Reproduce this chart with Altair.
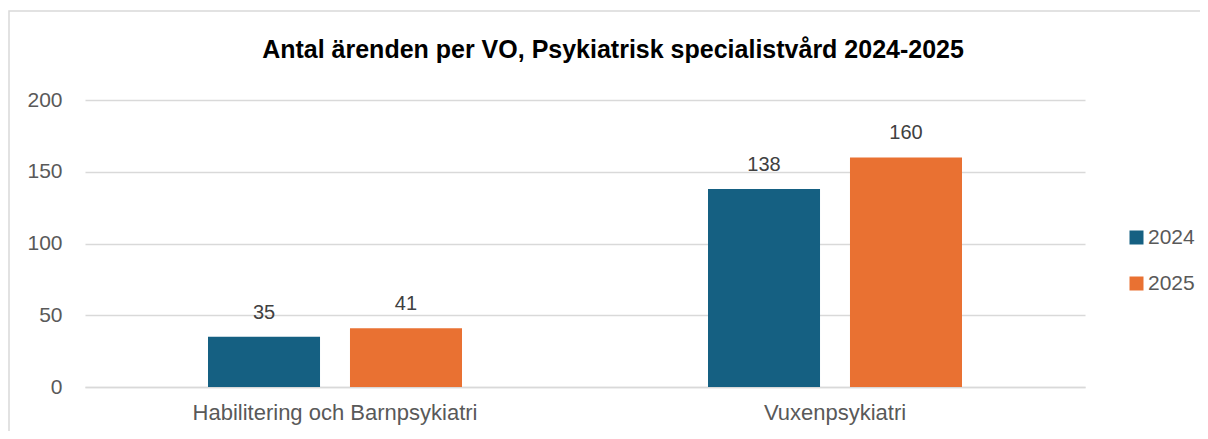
import altair as alt
import pandas as pd

categories = ["Habilitering och Barnpsykiatri", "Vuxenpsykiatri"]
years = ["2024", "2025"]
values_2024 = [35, 138]
values_2025 = [41, 160]
colors = ["#156082", "#E97132"]
y_ticks = [0, 50, 100, 150, 200]
title_text = "Antal ärenden per VO, Psykiatrisk specialistvård 2024-2025"

rows = []
for c, v in zip(categories, values_2024):
    rows.append({"cat": c, "year": "2024", "value": v})
for c, v in zip(categories, values_2025):
    rows.append({"cat": c, "year": "2025", "value": v})
df = pd.DataFrame(rows)

FONT = "Liberation Sans"

x_enc = alt.X("cat:N", sort=categories, title=None,
              scale=alt.Scale(paddingInner=0.492, paddingOuter=0.246),
              axis=alt.Axis(labelAngle=0, labelFontSize=22, labelColor="#595959",
                            labelFont=FONT, labelPadding=15, ticks=False, labelLimit=600,
                            domainColor="#d9d9d9", domainWidth=1.5, grid=False))
xo_enc = alt.XOffset("year:N", sort=years,
                     scale=alt.Scale(paddingInner=0.211, paddingOuter=0))
y_enc = alt.Y("value:Q", title=None,
              scale=alt.Scale(domain=[0, 200], nice=False),
              axis=alt.Axis(values=y_ticks, labelFontSize=21, labelColor="#595959",
                            labelFont=FONT, labelPadding=23, ticks=False, domain=False,
                            gridColor="#d9d9d9", gridWidth=1.5))

bars = alt.Chart(df).mark_bar().encode(
    x=x_enc, xOffset=xo_enc, y=y_enc,
    color=alt.Color("year:N", sort=years,
                    scale=alt.Scale(domain=years, range=colors),
                    legend=alt.Legend(title=None, orient="none", legendX=1041, legendY=127,
                                      symbolType="square", symbolSize=196,
                                      symbolStrokeWidth=0, labelFontSize=21,
                                      labelColor="#595959", labelFont=FONT,
                                      rowPadding=24, labelOffset=1, padding=0)),
)

labels = alt.Chart(df).mark_text(baseline="alphabetic", dy=-18, fontSize=20,
                                 color="#404040", font=FONT).encode(
    x=alt.X("cat:N", sort=categories), xOffset=alt.XOffset("year:N", sort=years),
    y="value:Q", text="value:Q")

border = alt.Chart(pd.DataFrame({"a": [0]})).mark_rect(
    fill=None, stroke="#d9d9d9", strokeWidth=1.5, clip=False).encode(
    x=alt.value(-76), x2=alt.value(1300), y=alt.value(-89), y2=alt.value(500))

title = alt.Chart(pd.DataFrame({"t": [title_text]})).mark_text(
    font=FONT, fontSize=25, fontWeight="bold", color="#000000",
    baseline="alphabetic", align="center").encode(
    x=alt.value(528), y=alt.value(-42), text="t:N")

chart = alt.layer(border, bars, labels, title).properties(
    width=1000, height=287,
    padding={"left": 77, "top": 92, "right": 115, "bottom": 44},
    autosize=alt.AutoSizeParams(type="none"),
).configure_view(stroke=None)

chart.save("out.html", embed_options={"renderer": "svg", "actions": False})
